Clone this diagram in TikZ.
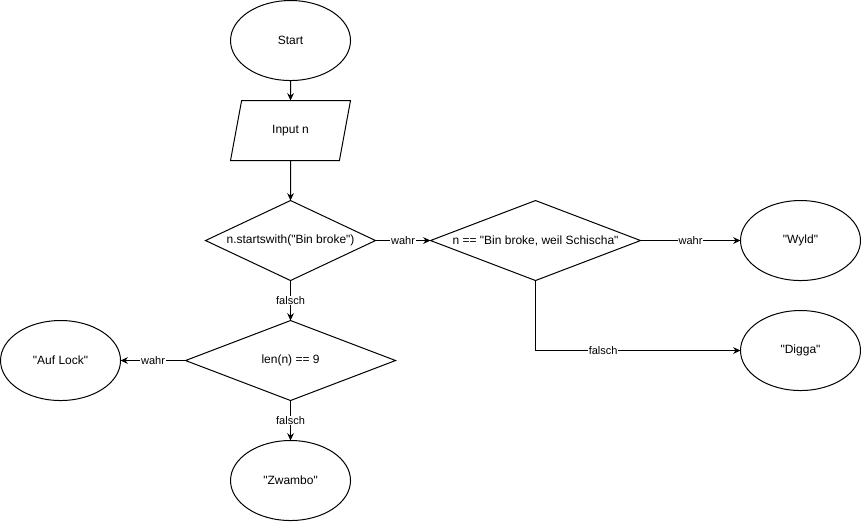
\documentclass[tikz,border=0pt]{standalone}
\usepackage{fontspec}
\setsansfont{Liberation Sans}
\usetikzlibrary{shapes.geometric, arrows.meta, positioning, calc}
\newcommand{\qq}{\textquotedbl}
\tikzset{
    font=\sffamily\fontsize{9}{11}\selectfont,
    >={Stealth[length=5.5pt, width=5pt]},
    % Shapes
    terminal/.style={ellipse, draw, line width=0.75pt, outer sep=0pt,
                     minimum width=90pt, minimum height=60pt, inner sep=1pt, align=center},
    io/.style={trapezium, draw, line width=0.75pt, outer sep=0pt, trapezium stretches=true,
               trapezium left angle=71.57, trapezium right angle=108.43,
               minimum width=90pt, minimum height=45pt, inner sep=1pt, align=center},
    decision/.style={diamond, draw, line width=0.75pt, outer sep=0pt, aspect=2.6,
                     minimum height=60pt, inner sep=0.5pt, align=center},
    % Flow & Labels
    flow/.style={->, line width=0.75pt},
    lbl/.style={fill=white, font=\sffamily\fontsize{8.25}{10}\selectfont, inner sep=0.5pt}
}
\begin{document}
\begin{tikzpicture}

\node[terminal] (start) {Start};
\node[io, below=15pt of start] (input) {Input n};
\node[decision, minimum width=127.5pt, below=30pt of input] (bbcheck) {n.startswith(\qq Bin broke\qq)};
\node[decision, minimum width=157.5pt, right=41.25pt of bbcheck] (schischa) {n == \qq Bin broke, weil Schischa\qq};
\node[terminal, right=75pt of schischa] (wyld) {\qq Wyld\qq};
\node[terminal, below=22.5pt of wyld] (digga) {\qq Digga\qq};
\node[decision, minimum width=157.5pt, below=30pt of bbcheck] (lencheck) {len(n) == 9};
\node[terminal, left=48.75pt of lencheck] (auflock) {\qq Auf Lock\qq};
\node[terminal, below=30pt of lencheck] (zwambo) {\qq Zwambo\qq};

\draw[flow] (start) -- (input);
\draw[flow] (input) -- (bbcheck);
\draw[flow] (bbcheck) -- node[lbl] {wahr} (schischa);
\draw[flow] (bbcheck) -- node[lbl] {falsch} (lencheck);
\draw[flow] (schischa) -- node[lbl] {wahr} (wyld);
\draw[flow] (schischa.south) |- node[lbl, pos=0.665] {falsch} (digga);
\draw[flow] (lencheck) -- node[lbl] {wahr} (auflock);
\draw[flow] (lencheck) -- node[lbl] {falsch} (zwambo);

\path[use as bounding box] ($(auflock.west |- start.north)+(-0.4pt,0.4pt)$) rectangle ++(645.75pt,-390.75pt);

\end{tikzpicture}
\end{document}
